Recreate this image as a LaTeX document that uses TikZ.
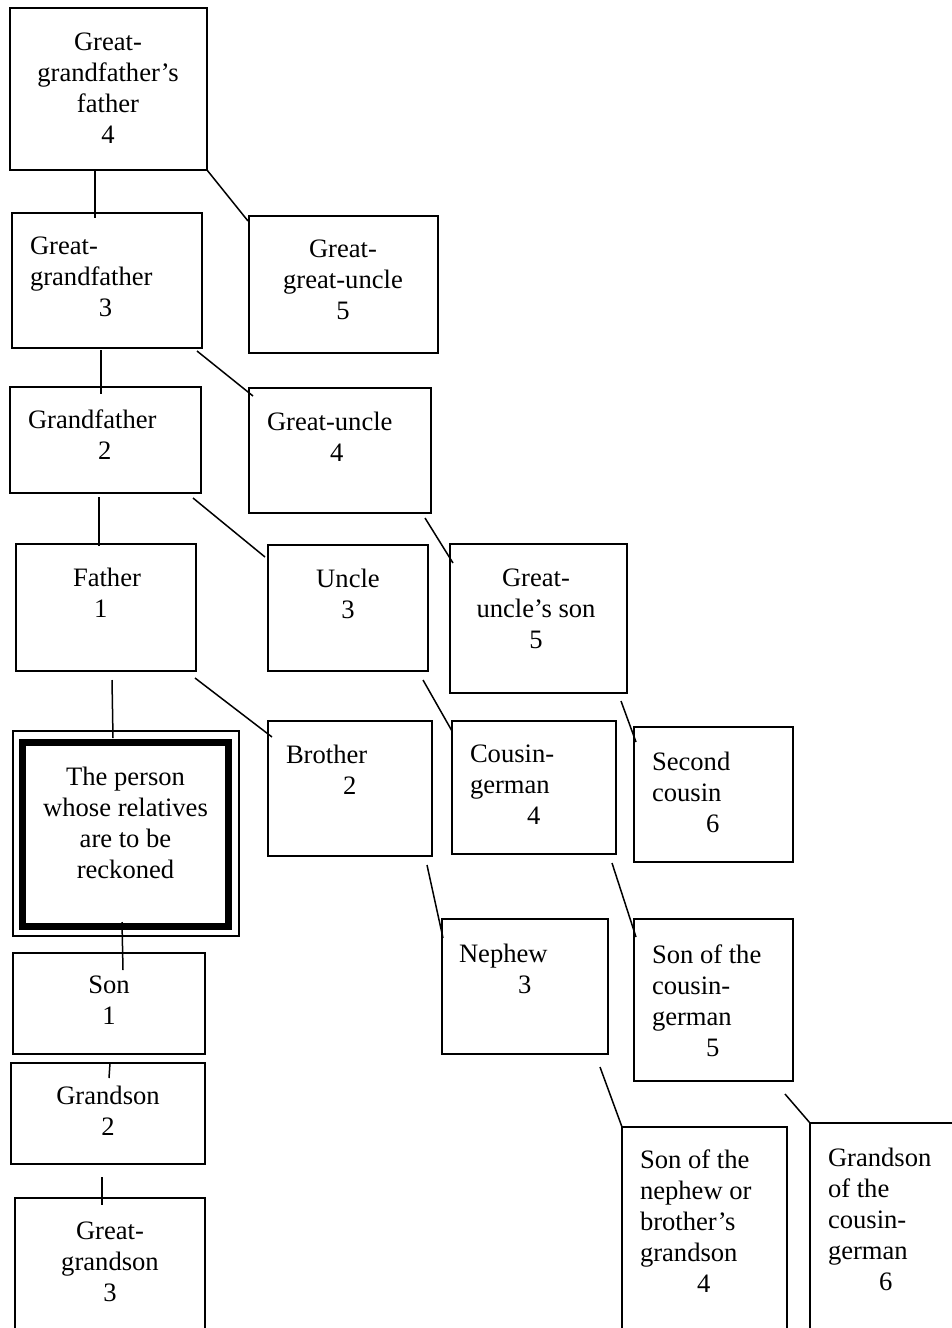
\documentclass[tikz,border=0pt]{standalone}
\usepackage{fontspec}
\setmainfont{Liberation Serif}
\newcommand\bx[6][box]{\node[#1, anchor=north west, minimum width={(#5-#3)*0.5pt}, minimum height={(#6-#4)*0.5pt}] (#2) at (#3,#4) {};}
\begin{document}
\begin{tikzpicture}[x=0.5pt,y=-0.5pt,
  box/.style={draw=black,line width=1.25pt,inner sep=0pt,outer sep=0pt},
  thinbox/.style={draw=black,line width=1pt,inner sep=0pt,outer sep=0pt},
  thickbox/.style={draw=black,line width=3.5pt,inner sep=0pt,outer sep=0pt},
  txt/.style={inner sep=0pt,outer sep=0pt,align=center,font=\fontsize{13.3}{15.5}\selectfont},
  txtl/.style={inner sep=0pt,outer sep=0pt,align=left,font=\fontsize{13.3}{15.5}\selectfont},
  conn/.style={draw=black,line width=0.75pt}]
\useasboundingbox (0,0) rectangle (952,1328);
\fill[white] (0,0) rectangle (952,1328);
\clip (0,0) rectangle (952,1328);

% boxes
\bx{ggff}{10}{8}{207}{170}
\bx{ggf}{12}{213}{202}{348}
\bx{ggu}{249}{216}{438}{353}
\bx{gf}{10}{387}{201}{493}
\bx{gu}{249}{388}{431}{513}
\bx{fa}{16}{544}{196}{671}
\bx{un}{268}{545}{428}{671}
\bx{gus}{450}{544}{627}{693}
\bx[thinbox]{pers}{12.5}{731}{239}{936}
\bx[thickbox]{persin}{22.5}{742}{228}{926}
\bx{br}{268}{721}{432}{856}
\bx{cg}{452}{721}{616}{854}
\bx{sc}{634}{727}{793}{862}
\bx{ne}{442}{919}{608}{1054}
\bx{soc}{634}{919}{793}{1081}
\bx{so}{13}{953}{205}{1054}
\bx{gs}{11}{1063}{205}{1164}
\bx{ggs}{15}{1198}{205}{1345}
\bx{son}{622}{1127}{787}{1345}
\bx{gsc}{810}{1123}{965}{1345}

% texts
\node[txt,anchor=north] (t-ggff) at (108,33) {Great-\\grandfather’s\\father\\4};
\node[txtl,anchor=north west] (t-ggf) at (30,237) {Great-\\grandfather\\\hspace*{34.5pt}3};
\node[txt,anchor=north] (t-ggu) at (343,240) {Great-\\great-uncle\\5};
\node[txtl,anchor=north west] (t-gf) at (28,410) {Grandfather\\\hspace*{35pt}2};
\node[txtl,anchor=north west] (t-gu) at (267,412) {Great-uncle\\\hspace*{31.5pt}4};
\node[txtl,anchor=north west] (t-fa) at (73,568) {Father\\\hspace*{10.5pt}1};
\node[txt,anchor=north] (t-un) at (348,569) {Uncle\\3};
\node[txt,anchor=north] (t-gus) at (536,569) {Great-\\uncle’s son\\5};
\node[txt,anchor=north] (t-pers) at (125.5,767) {The person\\whose relatives\\are to be\\reckoned};
\node[txtl,anchor=north west] (t-br) at (286,745) {Brother\\\hspace*{28.5pt}2};
\node[txtl,anchor=north west] (t-cg) at (470,745) {Cousin-\\german\\\hspace*{28.5pt}4};
\node[txtl,anchor=north west] (t-sc) at (652,752) {Second\\cousin\\\hspace*{27pt}6};
\node[txtl,anchor=north west] (t-ne) at (459,944) {Nephew\\\hspace*{29.5pt}3};
\node[txtl,anchor=north west] (t-soc) at (652,945) {Son of the\\cousin-\\german\\\hspace*{27pt}5};
\node[txt,anchor=north] (t-so) at (109,976) {Son\\1};
\node[txt,anchor=north] (t-gs) at (108,1086) {Grandson\\2};
\node[txt,anchor=north] (t-ggs) at (110,1222) {Great-\\grandson\\3};
\node[txtl,anchor=north west] (t-son) at (640,1150) {Son of the\\nephew or\\brother’s\\grandson\\\hspace*{28.5pt}4};
\node[txtl,anchor=north west] (t-gsc) at (828,1148) {Grandson\\of the\\cousin-\\german\\\hspace*{25.5pt}6};

% connector end points
\coordinate (c1a) at (95,170);   \coordinate (c1b) at (95,218);
\coordinate (c2a) at (207,170);  \coordinate (c2b) at (248,221);
\coordinate (c3a) at (101,350);  \coordinate (c3b) at (101,394);
\coordinate (c4a) at (197,351);  \coordinate (c4b) at (253,396);
\coordinate (c5a) at (99,497);   \coordinate (c5b) at (99,546);
\coordinate (c6a) at (193,498);  \coordinate (c6b) at (265,557);
\coordinate (c7a) at (425,518);  \coordinate (c7b) at (453,563);
\coordinate (c8a) at (112,680);  \coordinate (c8b) at (113,738);
\coordinate (c9a) at (195,678);  \coordinate (c9b) at (272,737);
\coordinate (c10a) at (423,680); \coordinate (c10b) at (452,731);
\coordinate (c11a) at (621,701); \coordinate (c11b) at (636,742);
\coordinate (c12a) at (122,922); \coordinate (c12b) at (123,970);
\coordinate (c13a) at (110,1063);\coordinate (c13b) at (109,1078);
\coordinate (c14a) at (102,1177);\coordinate (c14b) at (102,1205);
\coordinate (c15a) at (427,865); \coordinate (c15b) at (443,938);
\coordinate (c16a) at (612,863); \coordinate (c16b) at (636,937);
\coordinate (c17a) at (600,1067);\coordinate (c17b) at (622,1127);
\coordinate (c18a) at (785,1094);\coordinate (c18b) at (810,1123);

\draw[conn] (c1a) -- (c1b);
\draw[conn] (c2a) -- (c2b);
\draw[conn] (c3a) -- (c3b);
\draw[conn] (c4a) -- (c4b);
\draw[conn] (c5a) -- (c5b);
\draw[conn] (c6a) -- (c6b);
\draw[conn] (c7a) -- (c7b);
\draw[conn] (c8a) -- (c8b);
\draw[conn] (c9a) -- (c9b);
\draw[conn] (c10a) -- (c10b);
\draw[conn] (c11a) -- (c11b);
\draw[conn] (c12a) -- (c12b);
\draw[conn] (c13a) -- (c13b);
\draw[conn] (c14a) -- (c14b);
\draw[conn] (c15a) -- (c15b);
\draw[conn] (c16a) -- (c16b);
\draw[conn] (c17a) -- (c17b);
\draw[conn] (c18a) -- (c18b);
\end{tikzpicture}
\end{document}
